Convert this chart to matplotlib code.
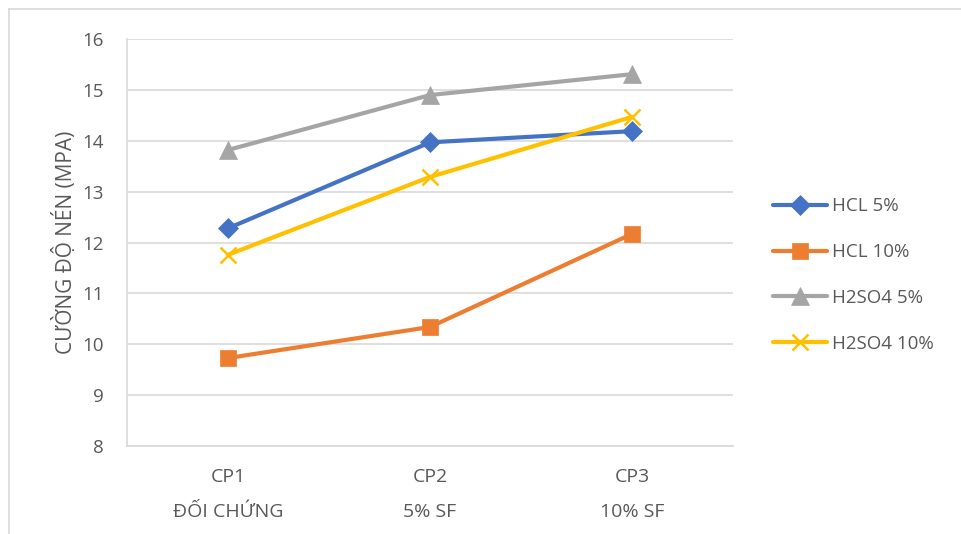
import matplotlib.pyplot as plt
from matplotlib.lines import Line2D

plt.rcParams['font.family'] = ['Open Sans', 'DejaVu Sans']

categories = ['CP1\nĐỐI CHỨNG', 'CP2\n5% SF', 'CP3\n10% SF']
hcl5 = [12.28, 13.97, 14.19]
hcl10 = [9.73, 10.34, 12.17]
h2so4_5 = [13.82, 14.9, 15.31]
h2so4_10 = [11.76, 13.29, 14.47]

series = [
    ('HCL 5%', hcl5, '#4472C4', 'D', 10.5),
    ('HCL 10%', hcl10, '#ED7D31', 's', 12),
    ('H2SO4 5%', h2so4_5, '#A5A5A5', '^', 12.5),
    ('H2SO4 10%', h2so4_10, '#FFC000', 'x', 12),
]

text_color = '#595959'
grid_color = '#D9D9D9'

fig = plt.figure(figsize=(9.61, 5.34), dpi=100)
ax = fig.add_axes([0.1322, 0.1648, 0.6306, 0.762])

x = range(len(categories))
for name, vals, col, mk, ms in series:
    ax.plot(x, vals, color=col, lw=3, marker=mk, markersize=ms,
            markeredgewidth=1.8 if mk == 'x' else 0.5, markeredgecolor=col,
            label=name, solid_capstyle='round')

ax.set_xlim(-0.5, 2.5)
ax.set_ylim(8, 16)
ax.set_yticks(range(8, 17))
ax.set_xticks(list(x))
ax.set_xticklabels(categories, fontsize=14, color=text_color, linespacing=2.2)
ax.tick_params(axis='y', labelsize=13.5, labelcolor=text_color, length=0, pad=17)
ax.tick_params(axis='x', length=0, pad=16)
ax.grid(axis='y', color=grid_color, lw=1.2)
ax.set_axisbelow(True)
for s in ['top', 'right']:
    ax.spines[s].set_visible(False)
ax.spines['left'].set_color(grid_color)
ax.spines['bottom'].set_color(grid_color)
ax.spines['left'].set_linewidth(1.2)
ax.spines['bottom'].set_linewidth(1.2)

ax.set_ylabel('CƯỜNG ĐỘ NÉN (MPA)', fontsize=15, color=text_color, labelpad=4)

leg = ax.legend(loc='center left', bbox_to_anchor=(1.038, 0.42), frameon=False,
                fontsize=13.5, labelspacing=1.48, handlelength=2.9,
                handletextpad=0.25, labelcolor=text_color)

# outer chart frame (left and top edges visible)
fig.add_artist(Line2D([9 / 961, 9 / 961], [0, 1 - 9 / 534], color=grid_color, lw=1.2))
fig.add_artist(Line2D([9 / 961, 1], [1 - 9 / 534, 1 - 9 / 534], color=grid_color, lw=1.2))

fig.savefig('out.png', dpi=100, facecolor='white')
